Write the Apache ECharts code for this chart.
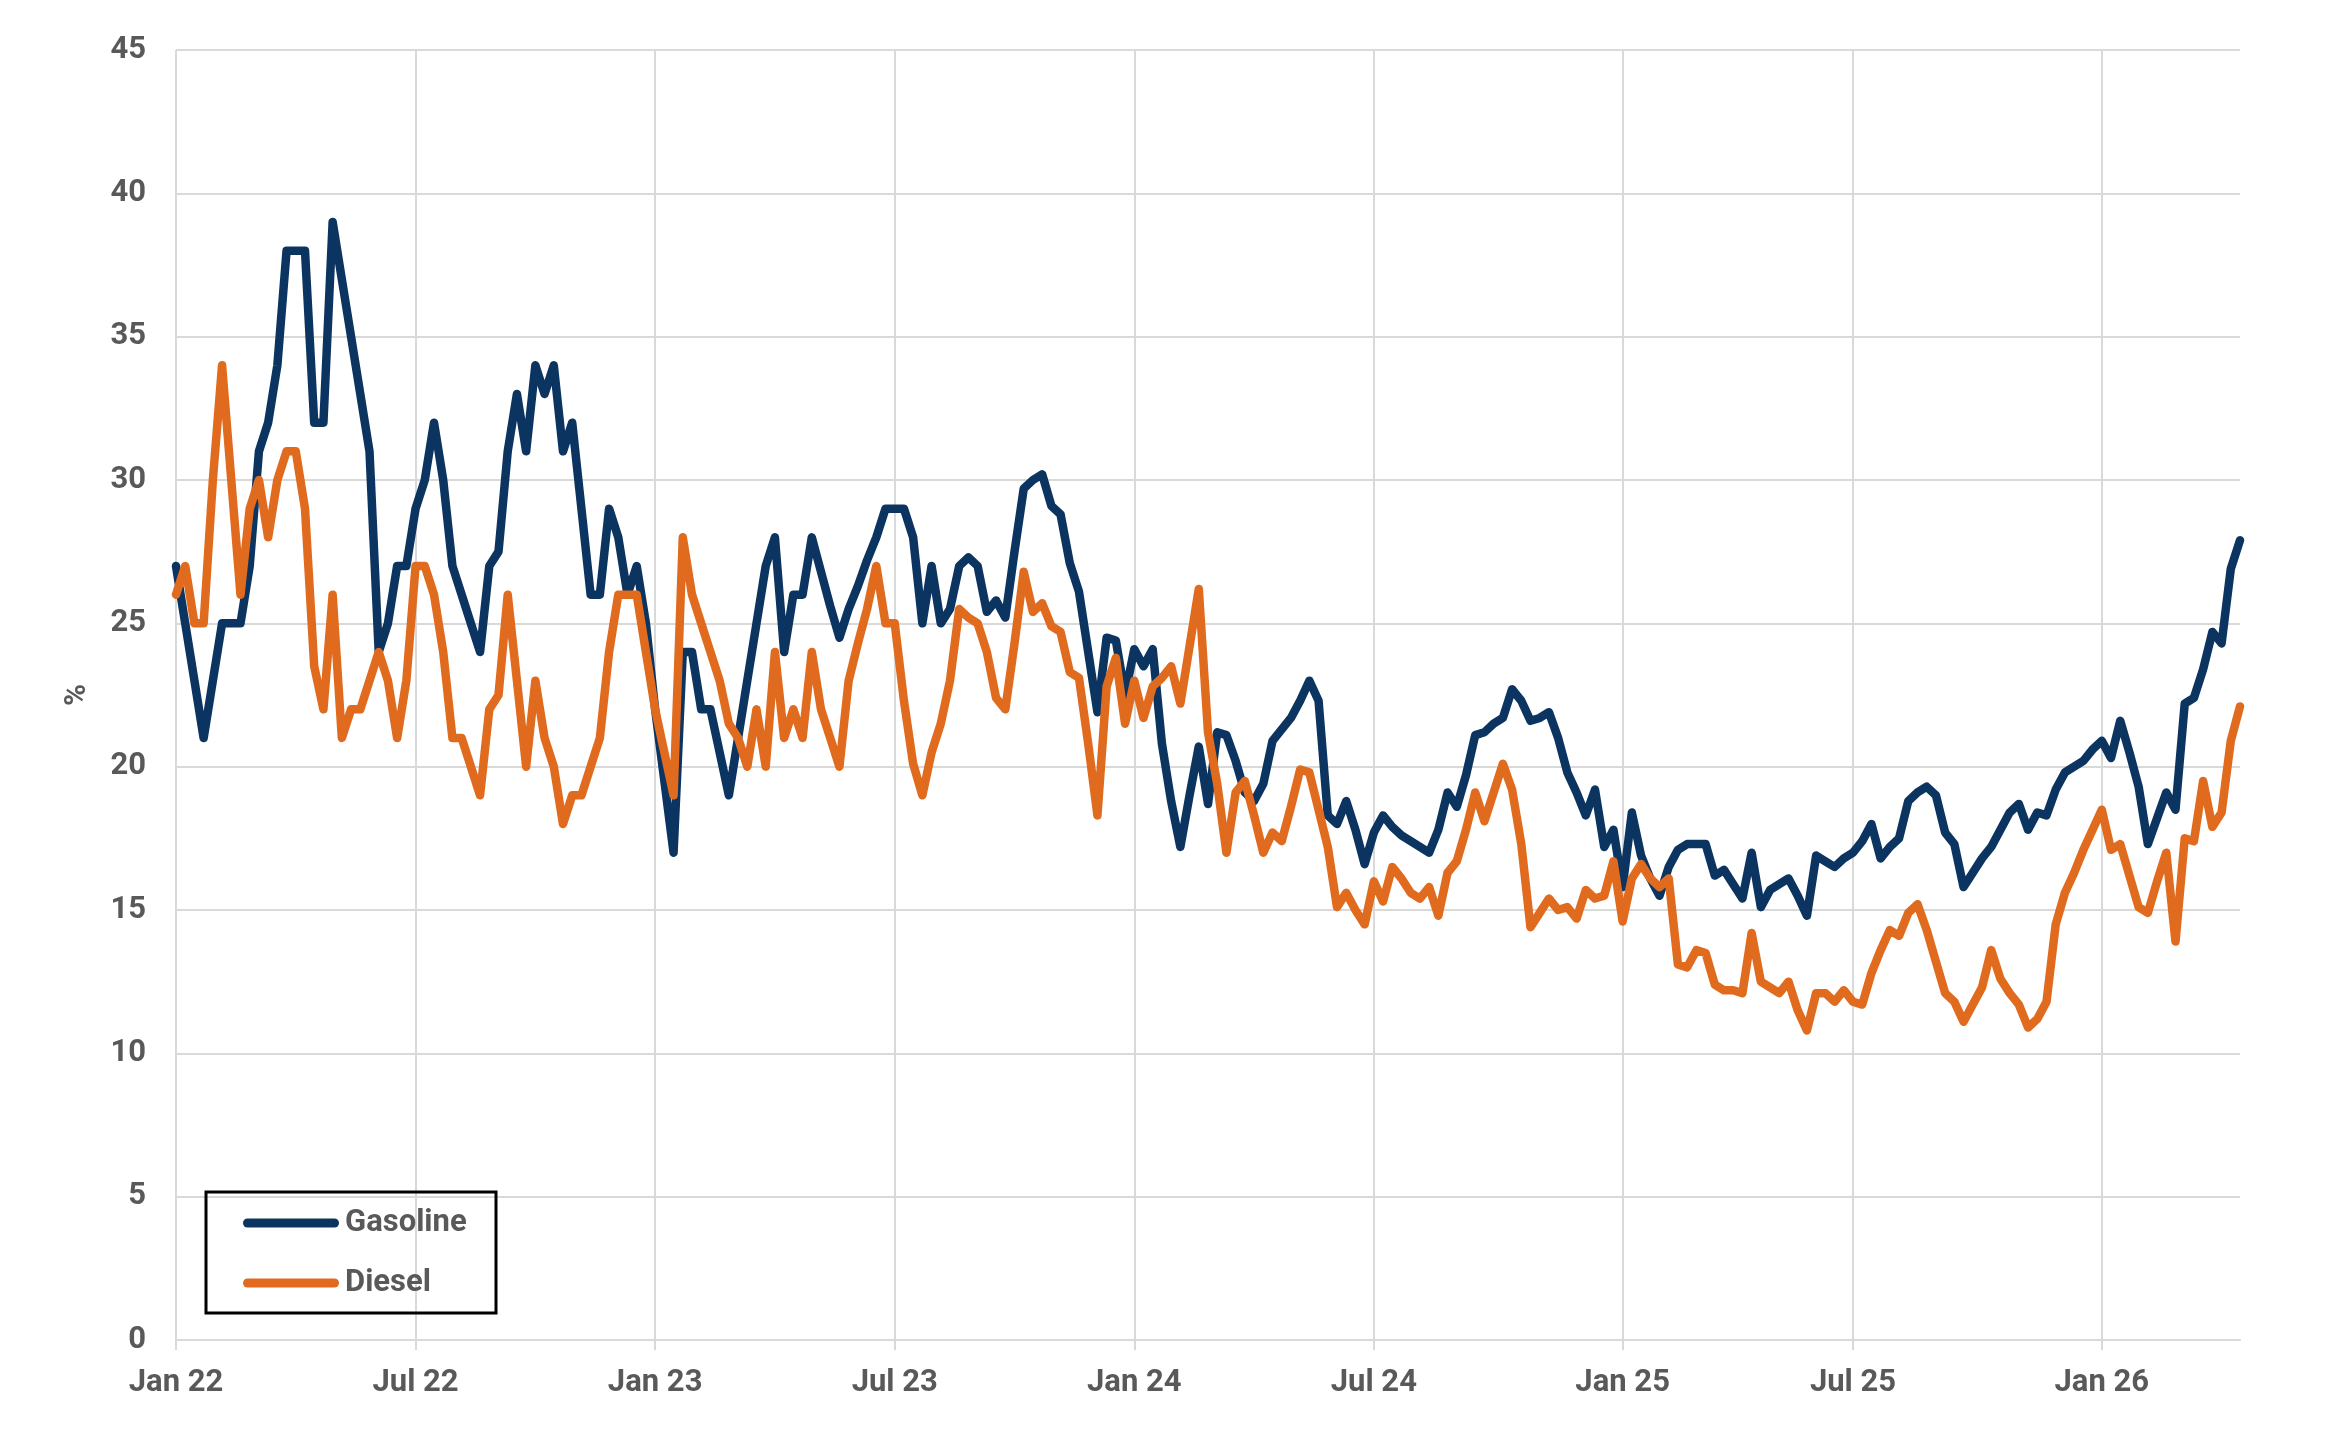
<!DOCTYPE html>
<html>
<head>
<meta charset="utf-8">
<title>Gasoline / Diesel</title>
<script src="https://cdn.jsdelivr.net/npm/echarts@6/dist/echarts.min.js"></script>
<style>
  html, body { margin: 0; padding: 0; background: #fff; }
  #chart { width: 2339px; height: 1429px; }
</style>
</head>
<body>
<div id="chart"></div>
<script>
// weekly series, first week = 1 Jan 2022
const startDate = '2022-01-01';

const gasoline = [
  27, 25, 23, 21, 23, 25, 25, 25, 27, 31,
  32, 34, 38, 38, 38, 32, 32, 39, 37, 35,
  33, 31, 24, 25, 27, 27, 29, 30, 32, 30,
  27, 26, 25, 24, 27, 27.5, 31, 33, 31, 34,
  33, 34, 31, 32, 29, 26, 26, 29, 28, 26,
  27, 25, 22, 19.5, 17, 24, 24, 22, 22, 20.5,
  19, 21, 23, 25, 27, 28, 24, 26, 26, 28,
  26.8, 25.6, 24.5, 25.5, 26.3, 27.2, 28, 29, 29, 29,
  28, 25, 27, 25, 25.5, 27, 27.3, 27, 25.4, 25.8,
  25.2, 27.5, 29.7, 30, 30.2, 29.1, 28.8, 27.1, 26.1, 24,
  21.9, 24.5, 24.4, 22.5, 24.1, 23.5, 24.1, 20.8, 18.8, 17.2,
  19, 20.7, 18.7, 21.2, 21.1, 20.2, 19.1, 18.8, 19.4, 20.9,
  21.3, 21.7, 22.3, 23, 22.3, 18.3, 18, 18.8, 17.8, 16.6,
  17.7, 18.3, 17.9, 17.6, 17.4, 17.2, 17, 17.8, 19.1, 18.6,
  19.7, 21.1, 21.2, 21.5, 21.7, 22.7, 22.3, 21.6, 21.7, 21.9,
  21, 19.8, 19.1, 18.3, 19.2, 17.2, 17.8, 15.8, 18.4, 16.9,
  16.1, 15.5, 16.5, 17.1, 17.3, 17.3, 17.3, 16.2, 16.4, 15.9,
  15.4, 17, 15.1, 15.7, 15.9, 16.1, 15.5, 14.8, 16.9, 16.7,
  16.5, 16.8, 17, 17.4, 18, 16.8, 17.2, 17.5, 18.8, 19.1,
  19.3, 19, 17.7, 17.3, 15.8, 16.3, 16.8, 17.2, 17.8, 18.4,
  18.7, 17.8, 18.4, 18.3, 19.2, 19.8, 20, 20.2, 20.6, 20.9,
  20.3, 21.6, 20.5, 19.3, 17.3, 18.2, 19.1, 18.5, 22.2, 22.4,
  23.4, 24.7, 24.3, 26.9, 27.9
];

const diesel = [
  26, 27, 25, 25, 30, 34, 30, 26, 29, 30,
  28, 30, 31, 31, 29, 23.5, 22, 26, 21, 22,
  22, 23, 24, 23, 21, 23, 27, 27, 26, 24,
  21, 21, 20, 19, 22, 22.5, 26, 23, 20, 23,
  21, 20, 18, 19, 19, 20, 21, 24, 26, 26,
  26, 24, 22, 20.5, 19, 28, 26, 25, 24, 23,
  21.5, 21, 20, 22, 20, 24, 21, 22, 21, 24,
  22, 21, 20, 23, 24.3, 25.5, 27, 25, 25, 22.3,
  20.1, 19, 20.5, 21.5, 23, 25.5, 25.2, 25, 24, 22.4,
  22, 24.3, 26.8, 25.4, 25.7, 24.9, 24.7, 23.3, 23.1, 20.8,
  18.3, 22.8, 23.8, 21.5, 23, 21.7, 22.8, 23.1, 23.5, 22.2,
  24.2, 26.2, 21.2, 19.4, 17, 19.1, 19.5, 18.3, 17, 17.7,
  17.4, 18.6, 19.9, 19.8, 18.5, 17.2, 15.1, 15.6, 15, 14.5,
  16, 15.3, 16.5, 16.1, 15.6, 15.4, 15.8, 14.8, 16.3, 16.7,
  17.8, 19.1, 18.1, 19.1, 20.1, 19.2, 17.3, 14.4, 14.9, 15.4,
  15, 15.1, 14.7, 15.7, 15.4, 15.5, 16.7, 14.6, 16.1, 16.6,
  16.1, 15.8, 16.1, 13.1, 13, 13.6, 13.5, 12.4, 12.2, 12.2,
  12.1, 14.2, 12.5, 12.3, 12.1, 12.5, 11.5, 10.8, 12.1, 12.1,
  11.8, 12.2, 11.8, 11.7, 12.8, 13.6, 14.3, 14.1, 14.9, 15.2,
  14.3, 13.2, 12.1, 11.8, 11.1, 11.7, 12.3, 13.6, 12.6, 12.1,
  11.7, 10.9, 11.2, 11.8, 14.5, 15.6, 16.3, 17.1, 17.8, 18.5,
  17.1, 17.3, 16.2, 15.1, 14.9, 16, 17, 13.9, 17.5, 17.4,
  19.5, 17.9, 18.4, 20.9, 22.1
];

const tickDates = ['2022-01-01', '2022-07-01', '2023-01-01', '2023-07-01', '2024-01-01',
  '2024-07-01', '2025-01-01', '2025-07-01', '2026-01-01'];
const tickLabels = ['Jan 22', 'Jul 22', 'Jan 23', 'Jul 23', 'Jan 24',
  'Jul 24', 'Jan 25', 'Jul 25', 'Jan 26'];

// week dates for the category axis
const WEEK = 7 * 24 * 3600 * 1000;
const t0 = Date.parse(startDate);
const weeks = gasoline.map((v, i) => new Date(t0 + i * WEEK).toISOString().slice(0, 10));

// nearest week to every Jan / Jul tick
const tickAt = {};
tickDates.forEach((d, j) => {
  tickAt[Math.round((Date.parse(d) - t0) / WEEK)] = tickLabels[j];
});
const isTick = (idx) => tickAt[idx] !== undefined;

const grey = '#595959';
const gridGrey = '#d9d9d9';
const font = 'Roboto, "Liberation Sans", sans-serif';
// pill shaped legend mark
const pill = 'path://M4.5,0 H91.5 A4.5,4.5 0 0 1 91.5,9 H4.5 A4.5,4.5 0 0 1 4.5,0 Z';

const myChart = echarts.init(document.getElementById('chart'));
const option = {
  animation: false,
  grid: { left: 176, right: 99, top: 50, bottom: 89, containLabel: false },
  legend: {
    orient: 'vertical',
    left: 243,
    top: 1207,
    padding: 0,
    icon: pill,
    itemWidth: 96,
    itemHeight: 9,
    itemGap: 28,
    data: ['Gasoline', 'Diesel'],
    textStyle: {
      fontFamily: font, fontSize: 31, fontWeight: 'bold', color: grey,
      lineHeight: 32, padding: [0, 0, 0, 1]
    }
  },
  graphic: [{
    type: 'rect',
    shape: { x: 206, y: 1192, width: 290, height: 121 },
    style: { fill: 'transparent', stroke: '#000', lineWidth: 3 },
    z: 10
  }],
  xAxis: {
    type: 'category',
    data: weeks,
    boundaryGap: false,
    axisLine: { show: true, lineStyle: { color: gridGrey, width: 2 } },
    axisTick: { show: true, interval: isTick, length: 10, lineStyle: { color: gridGrey, width: 2 } },
    splitLine: { show: true, interval: isTick, lineStyle: { color: gridGrey, width: 2 } },
    axisLabel: {
      interval: isTick,
      formatter: (v, idx) => tickAt[idx] || '',
      margin: 28,
      fontFamily: font, fontSize: 31, fontWeight: 'bold', color: grey
    }
  },
  yAxis: {
    type: 'value',
    min: 0,
    max: 45,
    interval: 5,
    name: '%',
    nameLocation: 'middle',
    nameGap: 84,
    nameTextStyle: { fontFamily: font, fontSize: 30, fontWeight: 'bold', color: grey },
    axisLine: { show: false },
    axisTick: { show: false },
    splitLine: { lineStyle: { color: gridGrey, width: 2 } },
    axisLabel: { margin: 30, fontFamily: font, fontSize: 31, fontWeight: 'bold', color: grey }
  },
  series: [
    {
      name: 'Gasoline',
      type: 'line',
      data: gasoline,
      showSymbol: false,
      symbol: 'none',
      color: '#0c3461',
      lineStyle: { width: 8.5, cap: 'round', join: 'round' }
    },
    {
      name: 'Diesel',
      type: 'line',
      data: diesel,
      showSymbol: false,
      symbol: 'none',
      color: '#e06b1f',
      lineStyle: { width: 8.5, cap: 'round', join: 'round' }
    }
  ]
};
option && myChart.setOption(option);
window.addEventListener('resize', function () {
  myChart.resize();
});
</script>
</body>
</html>
